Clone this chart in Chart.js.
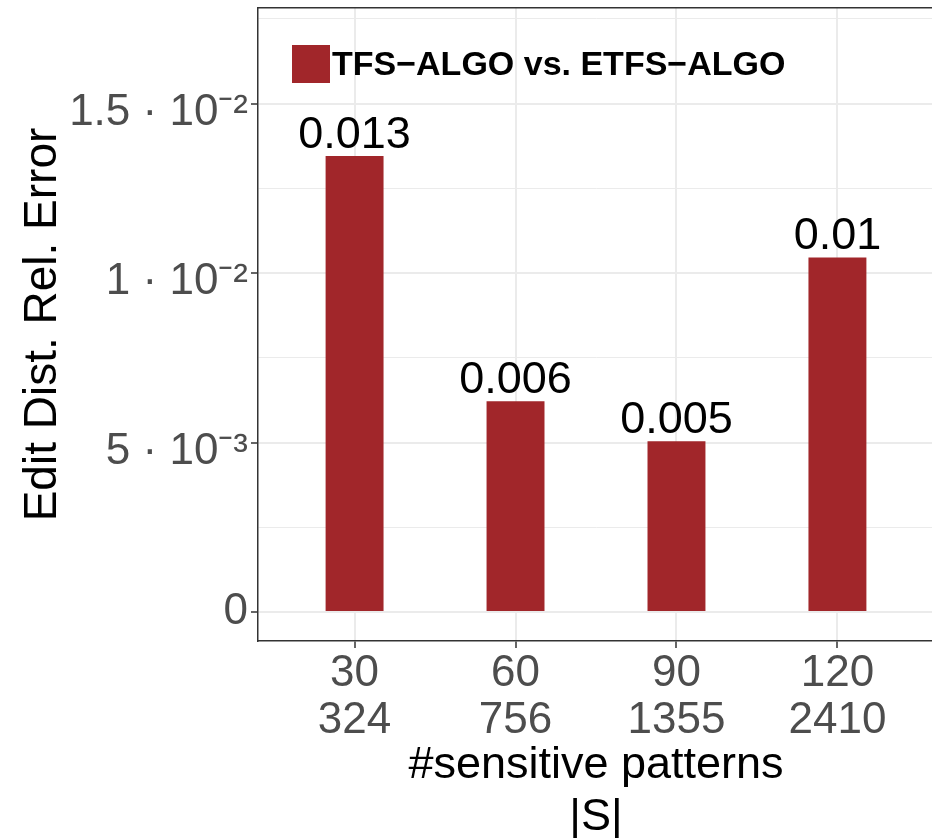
<!DOCTYPE html>
<html>
<head>
<meta charset="utf-8">
<script src="https://cdn.jsdelivr.net/npm/chart.js@4.4.0/dist/chart.umd.min.js"></script>
<style>
  html, body { margin: 0; padding: 0; background: #ffffff; overflow: hidden; }
  #wrap { width: 932px; height: 838px; overflow: hidden; position: relative; }
  canvas { display: block; }
</style>
</head>
<body>
<div id="wrap"><canvas id="c" width="940" height="838"></canvas></div>
<script>
// ---- data ----
const patternCounts = ['30', '60', '90', '120'];
const setSizes = ['324', '756', '1355', '2410'];
const errorValues = [0.01345, 0.00622, 0.00504, 0.01046];
const valueLabels = ['0.013', '0.006', '0.005', '0.01'];
const yTickValues = [0, 0.005, 0.01, 0.015];
const yTickLabels = ['0', '5 · 10⁻³', '1 · 10⁻²', '1.5 · 10⁻²'];
const seriesName = 'TFS−ALGO vs. ETFS−ALGO';
const yAxisTitle = 'Edit Dist. Rel. Error';
const xAxisTitle = ['#sensitive patterns', '|S|'];

// ---- styles ----
const BAR_COLOR = '#A1262A';
const GRID_COLOR = '#EBEBEB';
const AXIS_COLOR = '#333333';
const TICK_TEXT = '#4D4D4D';
const FONT = '"Liberation Sans", Arial, Helvetica, sans-serif';

Chart.defaults.font.family = FONT;

function yLabelIndex(v) {
  for (let i = 0; i < yTickValues.length; i++) {
    if (Math.abs(yTickValues[i] - v) < 1e-9) return i;
  }
  return -1;
}

// legend key image
const key = document.createElement('canvas');
key.width = 38; key.height = 42;
(function () {
  const k = key.getContext('2d');
  k.fillStyle = BAR_COLOR;
  k.fillRect(0, 0, 38, 38);
})();

const valueLabelPlugin = {
  id: 'valueLabels',
  afterDatasetsDraw(chart) {
    const ctx = chart.ctx;
    const meta = chart.getDatasetMeta(0);
    ctx.save();
    ctx.font = '45px ' + FONT;
    ctx.fillStyle = '#000000';
    ctx.textAlign = 'center';
    ctx.textBaseline = 'alphabetic';
    meta.data.forEach((bar, i) => {
      ctx.fillText(valueLabels[i], bar.x, bar.y - 8);
    });
    ctx.restore();
  }
};

new Chart(document.getElementById('c'), {
  type: 'bar',
  data: {
    datasets: [{
      label: seriesName,
      data: errorValues.map((v, i) => ({ x: i + 1, y: v })),
      backgroundColor: BAR_COLOR,
      borderWidth: 0,
      categoryPercentage: 1.0,
      barPercentage: 0.36
    }]
  },
  options: {
    responsive: false,
    animation: false,
    devicePixelRatio: 1,
    layout: { padding: { left: 0, right: 6, top: 8, bottom: 0 } },
    plugins: {
      tooltip: { enabled: false },
      legend: {
        position: 'chartArea',
        align: 'start',
        labels: {
          usePointStyle: true,
          boxWidth: 8,
          boxHeight: 34,
          padding: 49,
          color: '#000000',
          font: { size: 34, weight: 'bold', family: FONT },
          generateLabels(chart) {
            const items = Chart.defaults.plugins.legend.labels.generateLabels(chart);
            items.forEach(it => { it.pointStyle = key; });
            return items;
          }
        }
      }
    },
    scales: {
      x: {
        type: 'linear',
        position: 'bottom',
        offset: false,
        min: 0.4,
        max: 4.6,
        afterBuildTicks(scale) {
          scale.ticks = patternCounts.map((_, i) => ({ value: i + 1 }));
        },
        afterFit(scale) { scale.height = 197; },
        ticks: {
          autoSkip: false,
          maxRotation: 0,
          padding: 2,
          color: TICK_TEXT,
          font: { size: 44, lineHeight: 1.08 },
          callback(value, index) {
            return [patternCounts[index], setSizes[index]];
          }
        },
        grid: {
          offset: false,
          color: GRID_COLOR,
          lineWidth: 2,
          tickColor: AXIS_COLOR,
          tickLength: 7,
          tickWidth: 1.5
        },
        border: { display: true, color: AXIS_COLOR, width: 1.5 },
        title: {
          display: true,
          text: xAxisTitle,
          color: '#000000',
          font: { size: 45, lineHeight: 1.156 },
          padding: { top: 0, bottom: -6 }
        }
      },
      xTop: {
        type: 'linear',
        position: 'top',
        min: 0,
        max: 1,
        afterFit(scale) { scale.height = 0; },
        ticks: { display: false },
        grid: { display: false },
        border: { display: true, color: AXIS_COLOR, width: 1.5 }
      },
      y: {
        type: 'linear',
        position: 'left',
        min: -0.000855,
        max: 0.01782,
        afterFit(scale) { scale.width = 258; },
        ticks: {
          stepSize: 0.0025,
          includeBounds: false,
          padding: 3,
          color: TICK_TEXT,
          font(ctx) {
            const v = ctx.tick ? ctx.tick.value : 0;
            const i = yLabelIndex(v);
            let lh = '1px';
            if (i === 0) lh = 1.0;
            else if (i > 0) lh = '18px';
            return { size: 44, lineHeight: lh };
          },
          callback(value) {
            const i = yLabelIndex(value);
            if (i < 0) return '';
            return value === 0 ? yTickLabels[i] : ['', yTickLabels[i]];
          }
        },
        grid: {
          color: GRID_COLOR,
          lineWidth(ctx) { return yLabelIndex(ctx.tick.value) >= 0 ? 2 : 1; },
          tickColor(ctx) { return yLabelIndex(ctx.tick.value) >= 0 ? AXIS_COLOR : 'rgba(0,0,0,0)'; },
          tickLength: 7,
          tickWidth: 1.5
        },
        border: { display: true, color: AXIS_COLOR, width: 1.5 },
        title: {
          display: true,
          text: yAxisTitle,
          color: '#000000',
          font: { size: 46, lineHeight: 1.2 },
          padding: { top: 16, bottom: 0 }
        }
      }
    }
  },
  plugins: [valueLabelPlugin]
});
</script>
</body>
</html>
